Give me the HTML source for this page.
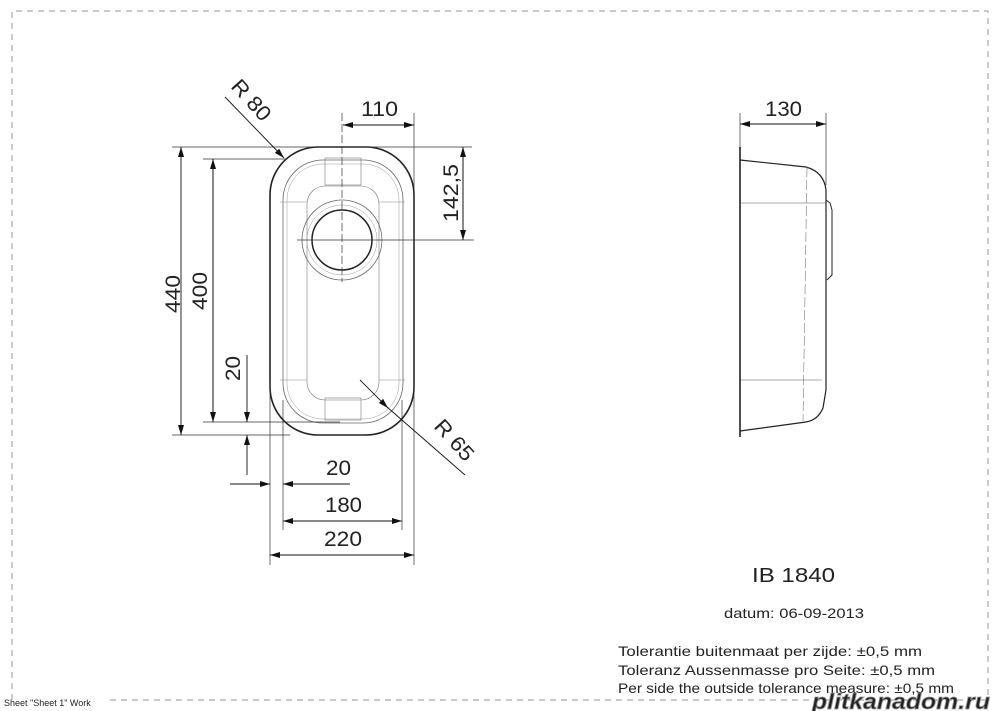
<!DOCTYPE html>
<html><head><style>
body{margin:0;background:#fff}
svg{display:block}
text{font-family:"Liberation Sans",sans-serif;fill:#222}
</style></head><body>
<svg width="1000" height="711" viewBox="0 0 1000 711">
<defs>
<marker id="a" markerWidth="10" markerHeight="6" refX="10" refY="3" orient="auto" markerUnits="userSpaceOnUse"><path d="M0,0 L10,3 L0,6 Z" fill="#111"/></marker>
</defs>
<g fill="none" stroke="#aaa" stroke-width="1.2" stroke-dasharray="6,5">
<path d="M12,700 L12,11 L988,11 L988,700"/>
<path d="M110,700 L988,700"/>
</g>
<text x="4" y="706" font-size="9" fill="#666">Sheet "Sheet 1" Work</text>

<g fill="none" stroke="#222">
<rect x="270" y="147" width="144" height="288" rx="48" stroke-width="1.6"/>
<rect x="283" y="160" width="120" height="263" rx="40" stroke-width="0.8" stroke="#666"/>
<rect x="287" y="164" width="112" height="255" rx="36" stroke-width="0.5" stroke="#999"/>
<rect x="307" y="186" width="72" height="214" rx="18" stroke-width="0.6" stroke="#777"/>
<rect x="325" y="158" width="36" height="27" stroke-width="0.6" stroke="#777"/>
<rect x="325" y="398" width="36" height="22" stroke-width="0.6" stroke="#777"/>
<line x1="280" y1="202" x2="307" y2="202" stroke-width="0.5" stroke="#888"/>
<line x1="379" y1="202" x2="405" y2="202" stroke-width="0.5" stroke="#888"/>
<line x1="280" y1="380" x2="307" y2="380" stroke-width="0.5" stroke="#888"/>
<line x1="379" y1="380" x2="405" y2="380" stroke-width="0.5" stroke="#888"/>
<circle cx="342" cy="240" r="40" stroke-width="0.8" stroke="#666"/>
<circle cx="342" cy="240" r="35" stroke-width="0.5" stroke="#999"/>
<circle cx="342" cy="240" r="30" stroke-width="1.5"/>
</g>
<g fill="none" stroke="#333" stroke-width="0.7">
<line x1="342" y1="113" x2="342" y2="282" stroke-dasharray="8,3"/>
<line x1="297" y1="240" x2="474" y2="240"/>
<line x1="414" y1="113" x2="414" y2="565"/>
<line x1="270" y1="380" x2="270" y2="565"/>
<line x1="283" y1="400" x2="283" y2="530"/>
<line x1="402" y1="400" x2="402" y2="530"/>
<line x1="172" y1="147" x2="472" y2="147"/>
<line x1="203" y1="159" x2="287" y2="159"/>
<line x1="172" y1="435" x2="290" y2="435"/>
<line x1="203" y1="422" x2="340" y2="422"/>
</g>
<g stroke="#111" stroke-width="0.9" fill="none">
<line x1="181" y1="160" x2="181" y2="147" marker-end="url(#a)"/>
<line x1="181" y1="420" x2="181" y2="435" marker-end="url(#a)"/>
<line x1="181" y1="160" x2="181" y2="420"/>
<line x1="213" y1="159" x2="213" y2="422" marker-end="url(#a)" />
<line x1="213" y1="422" x2="213" y2="159" marker-end="url(#a)"/>
<line x1="247" y1="355" x2="247" y2="422" marker-end="url(#a)"/>
<line x1="247" y1="475" x2="247" y2="435" marker-end="url(#a)"/>
<line x1="343" y1="125" x2="414" y2="125" marker-end="url(#a)"/>
<line x1="414" y1="125" x2="343" y2="125" marker-end="url(#a)"/>
<line x1="463" y1="147" x2="463" y2="240" marker-end="url(#a)"/>
<line x1="463" y1="240" x2="463" y2="147" marker-end="url(#a)"/>
<line x1="230" y1="484" x2="270" y2="484" marker-end="url(#a)"/>
<line x1="350" y1="484" x2="283" y2="484" marker-end="url(#a)"/>
<line x1="283" y1="521" x2="402" y2="521" marker-end="url(#a)"/>
<line x1="402" y1="521" x2="283" y2="521" marker-end="url(#a)"/>
<line x1="270" y1="555" x2="414" y2="555" marker-end="url(#a)"/>
<line x1="414" y1="555" x2="270" y2="555" marker-end="url(#a)"/>
<line x1="225" y1="97" x2="284" y2="158" marker-end="url(#a)"/>
<line x1="465" y1="475" x2="387" y2="407"/>
<line x1="360" y1="380" x2="388" y2="408" marker-end="url(#a)"/>
</g>
<g font-size="21">
<text x="361" y="116" textLength="37" lengthAdjust="spacingAndGlyphs">110</text>
<text x="326" y="475" textLength="25" lengthAdjust="spacingAndGlyphs">20</text>
<text x="325" y="512" textLength="37" lengthAdjust="spacingAndGlyphs">180</text>
<text x="324" y="546" textLength="38" lengthAdjust="spacingAndGlyphs">220</text>
<text transform="translate(180,313) rotate(-90)" textLength="38" lengthAdjust="spacingAndGlyphs">440</text>
<text transform="translate(207,310) rotate(-90)" textLength="38" lengthAdjust="spacingAndGlyphs">400</text>
<text transform="translate(240,381) rotate(-90)" textLength="25" lengthAdjust="spacingAndGlyphs">20</text>
<text transform="translate(458,222) rotate(-90)" textLength="58" lengthAdjust="spacingAndGlyphs">142,5</text>
<text transform="translate(230,87) rotate(48)" textLength="48" lengthAdjust="spacingAndGlyphs">R 80</text>
<text transform="translate(433,427) rotate(48)" textLength="48" lengthAdjust="spacingAndGlyphs">R 65</text>
<text x="765" y="116" textLength="37" lengthAdjust="spacingAndGlyphs">130</text>
</g>

<g fill="none" stroke="#222">
<line x1="740" y1="147" x2="740" y2="437" stroke-width="1.6"/>
<path d="M740,160 L806,167 Q824,172 826,190 L826,210 L826,390 L823,408 Q818,420 806,422 L740,431" stroke-width="1.2"/>
<path d="M826,200 L830,203 L832,210 L832,275 L827,280" stroke-width="1"/>
<line x1="741" y1="203" x2="826" y2="203" stroke-width="0.6" stroke="#555"/>
<line x1="741" y1="380" x2="822" y2="380" stroke-width="0.6" stroke="#555"/>
<line x1="807" y1="167" x2="803" y2="421" stroke-width="0.6" stroke="#777" stroke-dasharray="10,3"/>
<line x1="826" y1="113" x2="826" y2="185" stroke-width="0.7" stroke="#333"/>
<line x1="740" y1="113" x2="740" y2="147" stroke-width="0.7" stroke="#333"/>
</g>
<g stroke="#111" stroke-width="0.9">
<line x1="740" y1="124" x2="826" y2="124" marker-end="url(#a)"/>
<line x1="826" y1="124" x2="740" y2="124" marker-end="url(#a)"/>
</g>

<text x="752" y="582" font-size="20" textLength="83" lengthAdjust="spacingAndGlyphs">IB 1840</text>
<text x="724" y="618" font-size="14" fill="#444" textLength="140" lengthAdjust="spacingAndGlyphs">datum: 06-09-2013</text>
<g font-size="14" fill="#333">
<text x="618" y="656" textLength="304" lengthAdjust="spacingAndGlyphs">Tolerantie buitenmaat per zijde: ±0,5 mm</text>
<text x="618" y="675" textLength="317" lengthAdjust="spacingAndGlyphs">Toleranz Aussenmasse pro Seite: ±0,5 mm</text>
<text x="618" y="693" textLength="336" lengthAdjust="spacingAndGlyphs">Per side the outside tolerance measure: ±0,5 mm</text>
</g>
<text x="812" y="709" font-size="22" font-weight="bold" fill="#fff" stroke="#999" stroke-width="0.8" font-style="italic" textLength="178" lengthAdjust="spacingAndGlyphs">plitkanadom.ru</text>
</svg>
</body></html>
